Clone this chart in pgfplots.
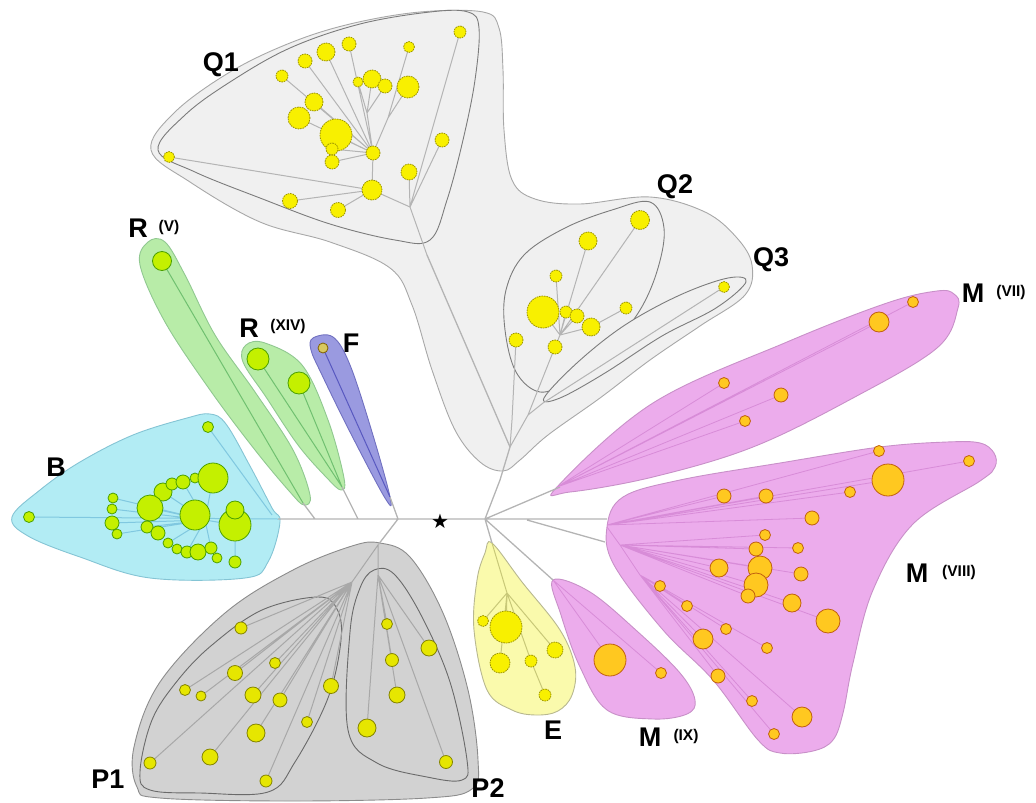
\documentclass[border=0pt]{standalone}
\usepackage{pgfplots}
\pgfplotsset{compat=1.18}
\usepackage{fontspec}
\setmainfont{Liberation Sans}
\newfontfamily\dejavu{DejaVu Sans}
\definecolor{qfill}{HTML}{F0F0F0}
\definecolor{qline}{HTML}{A8A8A8}
\definecolor{qinner}{HTML}{7C7C7C}
\definecolor{pfill}{HTML}{D2D2D2}
\definecolor{pline}{HTML}{8C8C8C}
\definecolor{pinner}{HTML}{6A6A6A}
\definecolor{bfill}{HTML}{B2ECF4}
\definecolor{bline}{HTML}{84C4D4}
\definecolor{bedge}{HTML}{80C8E0}
\definecolor{rfill}{HTML}{B8ECA8}
\definecolor{rline}{HTML}{90C890}
\definecolor{redge}{HTML}{70C070}
\definecolor{ffill}{HTML}{9A9AE0}
\definecolor{fline}{HTML}{7070C0}
\definecolor{fedge}{HTML}{5858C0}
\definecolor{efill}{HTML}{FAFAAC}
\definecolor{eline}{HTML}{B8B890}
\definecolor{eedge}{HTML}{C8C878}
\definecolor{mfill}{HTML}{ECACEC}
\definecolor{mline}{HTML}{C890C8}
\definecolor{medge}{HTML}{D88CD8}
\definecolor{trunk}{HTML}{B4B4B4}
\definecolor{yfill}{HTML}{F8F000}
\definecolor{yline}{HTML}{9C9400}
\definecolor{pyfill}{HTML}{E6E600}
\definecolor{pyline}{HTML}{848400}
\definecolor{gfill}{HTML}{C4F000}
\definecolor{gline}{HTML}{4CA000}
\definecolor{ofill}{HTML}{FFC820}
\definecolor{oline}{HTML}{C06010}
\definecolor{tfill}{HTML}{D8C860}
\definecolor{tline}{HTML}{806000}
\pgfplotsset{
  bub/.style n args={3}{scatter, only marks, mark=*, point meta=\thisrow{r},
    scatter/use mapped color={draw=#1, fill=#2, line width=0.8pt, #3},
    visualization depends on={\thisrow{r}\as\rr},
    scatter/@pre marker code/.append style={/tikz/mark size=\rr}},
  edge/.style={no marks, draw=#1, line width=1pt, empty line=jump, unbounded coords=jump},
  region/.style 2 args={smooth cycle, tension=0.6, draw=#1, fill=#2, line width=0.9pt, no marks},
}
\begin{document}
\begin{tikzpicture}
\begin{axis}[
  width=1036pt, height=803pt, scale only axis,
  xmin=0, xmax=1036, ymin=0, ymax=803, y dir=reverse,
  axis lines=none, ticks=none, clip=false,
]
\addplot[draw=none, no marks] coordinates {(0,0) (1036,803)};
% ---------- regions ----------
% Q outer
\addplot[region={qline}{qfill}] coordinates {
(151,150) (175,112) (230,72) (290,43) (350,24) (420,12) (483,12) (499,28) (503,70) (504,130)
(512,180) (535,199) (580,204) (650,197) (705,212) (737,238) (752,265) (745,295) (700,326)
(650,360) (600,398) (548,435) (520,460) (503,471) (480,462) (455,430) (432,370) (412,305)
(390,268) (330,242) (260,222) (190,182)};
% Q1 hull
\addplot[region={qinner}{qfill}] coordinates {
(158,150) (185,115) (230,82) (290,48) (360,24) (430,12) (468,12) (479,28) (475,80) (463,140)
(447,200) (430,240) (395,240) (330,224) (260,198) (195,172)};
% Q2 hull
\addplot[region={qinner}{qfill}] coordinates {
(650,202) (664,228) (658,268) (640,310) (608,350) (570,380) (540,392) (516,372) (505,330)
(506,290) (524,255) (565,228) (612,210)};
% Q3 hull
\addplot[region={qinner}{qfill}] coordinates {
(746,282) (728,278) (680,295) (625,325) (578,362) (544,398) (560,398) (605,373) (662,336) (716,308)};
% R(V)
\addplot[region={rline}{rfill}] coordinates {
(148,242) (165,242) (185,275) (215,335) (255,392) (293,450) (310,495) (304,505) (290,492)
(255,450) (210,390) (165,322) (140,265)};
% R(XIV)
\addplot[region={rline}{rfill}] coordinates {
(246,345) (265,343) (302,365) (328,420) (344,478) (341,490) (327,478) (298,445) (266,397) (243,362)};
% F
\addplot[region={fline}{ffill}] coordinates {
(313,338) (333,337) (350,365) (372,432) (390,497) (385,498) (350,432) (322,375) (311,350)};
% B
\addplot[region={bline}{bfill}] coordinates {
(12,517) (40,490) (80,462) (133,435) (187,418) (210,414) (226,424) (250,466) (272,508) (280,522)
(268,562) (245,578) (150,578) (80,557) (28,536)};
% P outer
\addplot[region={pline}{pfill}] coordinates {
(380,543) (410,557) (443,613) (468,690) (478,760) (472,789) (427,798) (293,801) (160,798) (137,787)
(134,747) (160,682) (225,613) (293,570) (352,546)};
% P1
\addplot[region={pinner}{pfill}] coordinates {
(140,772) (152,720) (178,680) (212,645) (262,610) (318,597) (337,609) (341,640) (328,698) (295,762)
(268,792) (200,793) (150,790)};
% P2
\addplot[region={pinner}{pfill}] coordinates {
(374,570) (394,574) (421,615) (450,682) (467,760) (462,780) (427,777) (377,763) (348,730) (350,632) (360,588)};
% E
\addplot[region={eline}{efill}] coordinates {
(492,543) (522,582) (560,630) (575,667) (572,695) (558,711) (536,715) (512,710) (487,690)
(474,630) (477,580) (485,553)};
% M(IX)
\addplot[region={mline}{mfill}] coordinates {
(553,580) (590,592) (638,632) (680,673) (695,700) (687,714) (653,719) (607,710) (580,667) (561,615)};
% M(VII)
\addplot[region={mline}{mfill}] coordinates {
(557,487) (653,403) (787,342) (887,303) (937,291) (954,294) (958,308) (937,348) (853,398)
(753,447) (653,477) (570,492)};
% M(VIII)
\addplot[region={mline}{mfill}] coordinates {
(607,527) (623,497) (680,480) (780,463) (880,447) (947,442) (980,443) (994,453) (995,467)
(980,481) (913,524) (873,590) (853,663) (843,713) (833,740) (813,751) (780,753) (758,740)
(713,680) (663,630) (614,565)};
% ---------- edges ----------
\addplot[edge=trunk, line width=1.3pt] table {
x y
278 519
607 519

315 519
303 503

358 519
342 487

398 519
390 497

398 519
378 545

485 519
500 480
510 447
427 255

485 519
560 487

485 519
492 543

485 519
553 580

527 520
605 542
};
% Q edges
\addplot[edge=trunk] table {
x y
427 255
410 207
372 190
373 153

410 207
409 172

410 207
442 140

410 207
460 32

372 190
290 201

372 190
338 210

372 190
169 157

373 153
332 162

373 153
332 149

373 153
336 135

373 153
299 118

373 153
314 102

373 153
282 76

373 153
305 61

373 153
326 52

373 153
349 44

373 153
367 113
358 82

367 113
372 79

367 113
385 86

373 153
388 118
408 87

388 118
409 47

510 447
528 415
555 347

510 447
512 420
516 340

528 415
543 403
724 287

555 347
560 335
640 220

560 335
588 241

560 335
556 276

560 335
543 312

560 335
566 312

560 335
577 316

560 335
591 327
626 308
};
% B edges
\addplot[edge=bedge] table {
x y
29 517
278 519

208 427
272 515

205 520
113 498

205 520
112 509

205 520
112 523

205 520
117 534

205 520
150 508

205 520
163 492

205 520
183 482

205 520
213 478

205 520
235 525

205 520
147 527

205 520
168 543

205 520
187 552

205 520
211 548

235 525
235 562
};
% R, F edges
\addplot[edge=redge] table {
x y
303 503
162 261

342 487
258 359

342 487
299 383
};
\addplot[edge=fedge] table {
x y
390 497
323 348
};
% P edges
\addplot[edge=qline] table {
x y
378 545
352 582

378 545
378 575

352 582
241 628

352 582
275 663

352 582
235 673

352 582
185 690

352 582
201 696

352 582
253 695

352 582
280 700

352 582
331 686

352 582
307 722

352 582
256 733

352 582
210 757

352 582
150 763

352 582
266 781

378 575
387 624

378 575
429 648

378 575
392 660

378 575
397 695

378 575
367 728

378 575
446 762
};
% E edges
\addplot[edge=eedge] table {
x y
492 543
507 593
506 627

507 593
483 621

507 593
500 663

507 593
555 650

507 593
531 661
545 695
};
% M edges
\addplot[edge=medge, line width=0.8pt] table {
x y
553 580
610 660

553 580
661 673

557 487
913 302

557 487
879 322

557 487
724 383

557 487
781 395

557 487
745 421

607 525
879 451

607 525
969 461

607 525
888 480

607 525
850 492

607 525
724 496

607 525
766 496

607 525
812 518

607 527
620 545
640 575

620 545
765 535

620 545
756 549

620 545
798 548

620 545
719 568

620 545
760 568

620 545
801 574

620 545
756 585

620 545
748 596

620 545
792 603

620 545
828 621

640 575
660 586

640 575
687 606

640 575
726 629

640 575
703 639

640 575
767 648

640 575
718 676

640 575
752 701

640 575
802 717

640 575
774 734
};
% ---------- bubbles ----------
\addplot[bub={yline}{yfill}{dash pattern=on 1.6pt off 0.9pt}] table {
x y r
460 32 6
349 44 7
326 52 9
409 47 5.5
305 61 7
282 76 6
358 82 5
372 79 9
385 86 7
408 87 11
314 102 9
299 118 11
336 135 16
332 149 6
332 162 7
373 153 7
442 140 7
169 157 5.5
409 172 8
372 190 10
290 201 7.5
338 210 7.5
640 220 9.5
588 241 9
556 276 6
543 312 16
566 312 6
577 316 7
591 327 9
626 308 6
516 340 7
555 347 7
724 287 5.5
506 627 16
483 621 5.5
500 663 10
531 661 6
555 650 8
545 695 6
};
\addplot[bub={pyline}{pyfill}{solid}] table {
x y r
241 628 6
275 663 5.5
235 673 7.5
185 690 5.5
201 696 5
253 695 8
280 700 7
331 686 7.5
307 722 5.5
256 733 9
210 757 8
150 763 6
266 781 6
387 624 5.5
429 648 8
392 660 6.5
397 695 8
367 728 9
446 762 6.5
};
\addplot[bub={gline}{gfill}{solid}] table {
x y r
208 427 5.5
29 517 5.5
113 498 5
112 509 5
112 523 7
117 534 5
163 492 9
172 484 6
183 482 7
195 478 5
213 478 15
150 508 13
147 527 6
158 533 7
168 543 5
177 549 5
187 552 6
198 552 8
211 548 6
217 558 5
235 562 6
195 515 15
235 525 16
235 510 9
162 261 9.5
258 359 11
299 383 11
};
\addplot[bub={tline}{tfill}{solid}] table {
x y r
323 348 5
};
\addplot[bub={oline}{ofill}{solid}] table {
x y r
913 302 5.5
879 322 10
724 383 5.5
781 395 7
745 421 5.5
879 451 5.5
969 461 5.5
888 480 16
850 492 5.5
724 496 7
766 496 7
812 518 7
765 535 5.5
756 549 7
798 548 5.5
719 568 9
760 568 12
801 574 7
756 585 12
748 596 7
660 586 5.5
792 603 9
687 606 5.5
828 621 12
726 629 5.5
703 639 10
767 648 5.5
718 676 7
752 701 5.5
802 717 10
774 734 5.5
610 660 16
661 673 5.5
};
\addplot[only marks, mark=text, text mark={\dejavu\fontsize{20}{20}\selectfont ★}] coordinates {(440,521)};
% ---------- labels ----------
\tikzset{big/.style={font=\bfseries\fontsize{27}{27}\selectfont, inner sep=0pt},
         sm/.style={font=\bfseries\fontsize{15.5}{15.5}\selectfont, inner sep=0pt}}
\node[big] at (axis cs:221,65) {Q1};
\node[big] at (axis cs:675,187) {Q2};
\node[big] at (axis cs:771,260) {Q3};
\node[big] at (axis cs:973,293) {M};
\node[sm] at (axis cs:1011,292) {(VII)};
\node[big] at (axis cs:917,573) {M};
\node[sm] at (axis cs:959,572) {(VIII)};
\node[big] at (axis cs:650,737) {M};
\node[sm] at (axis cs:686,736) {(IX)};
\node[big] at (axis cs:553,730) {E};
\node[big] at (axis cs:108,779) {P1};
\node[big] at (axis cs:488,788) {P2};
\node[big] at (axis cs:56,467) {B};
\node[big] at (axis cs:138,228) {R};
\node[sm] at (axis cs:169,227) {(V)};
\node[big] at (axis cs:249,328) {R};
\node[sm] at (axis cs:288,326) {(XIV)};
\node[big] at (axis cs:351,343) {F};
\end{axis}
\end{tikzpicture}
\end{document}
